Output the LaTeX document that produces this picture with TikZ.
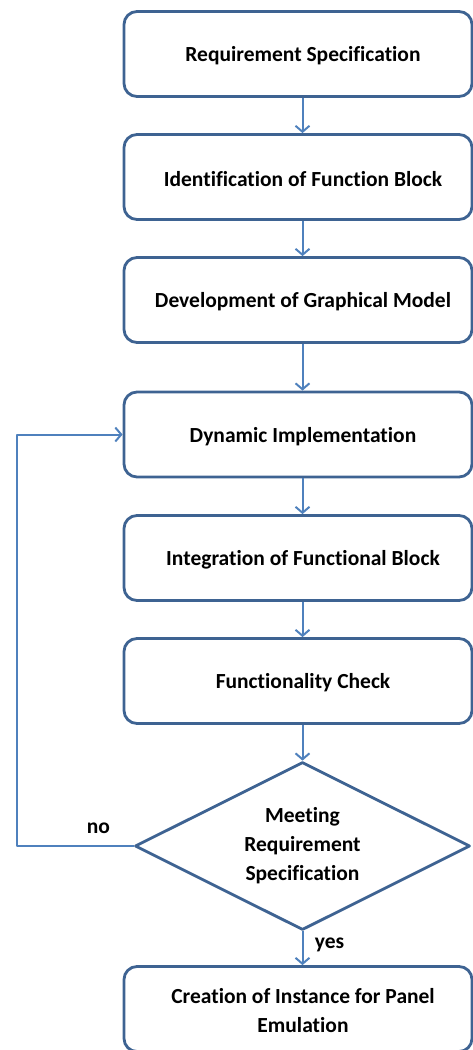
\documentclass[tikz,border=0pt]{standalone}
\usepackage{fontspec}
\setmainfont{Carlito}[Ligatures=NoCommon]
\usetikzlibrary{shapes.geometric,arrows.meta}
\definecolor{boxblue}{RGB}{62,99,146}
\definecolor{arrowblue}{RGB}{79,129,189}
\begin{document}
\begin{tikzpicture}[x=1pt,y=-1pt, font=\bfseries\fontsize{21.5}{29}\selectfont, line join=round,
  stepbox/.style={draw=boxblue, line width=2.8pt, rounded corners=13pt, minimum width=348pt, minimum height=85pt,
    label={[align=center, xshift=5pt, yshift=-2pt]center:#1}},
  check/.style={draw=boxblue, diamond, line width=2.8pt, aspect=2, minimum width=335pt, minimum height=168pt, align=center, inner sep=0pt},
  flow/.style={draw=arrowblue, line width=2pt, -{Straight Barb[length=6pt,width=14pt,line width=2pt]}}]
\useasboundingbox (0,0) rectangle (473,1050);
\node[stepbox={Requirement Specification}] (req) at (298,54) {};
\node[stepbox={Identification of Function Block}] (ident) at (298,177) {};
\node[stepbox={Development of Graphical Model}] (graph) at (298,300) {};
\node[stepbox={Dynamic Implementation}] (dyn) at (298,434.5) {};
\node[stepbox={Integration of Functional Block}] (integ) at (298,558) {};
\node[stepbox={Functionality Check}] (func) at (298,681) {};
\node[check] (dec) at (302.5,846) {Meeting\\Requirement\\Specification};
\node[stepbox={Creation of Instance for Panel\\Emulation}] (inst) at (298,1009) {};
% main flow
\draw[flow] (req.south -| dec) -- (ident.north -| dec);
\draw[flow] (ident.south -| dec) -- (graph.north -| dec);
\draw[flow] (graph.south -| dec) -- (dyn.north -| dec);
\draw[flow] (dyn.south -| dec) -- (integ.north -| dec);
\draw[flow] (integ.south -| dec) -- (func.north -| dec);
\draw[flow] (func.south -| dec) -- (dec.north);
\draw[flow] (dec.south) -- (inst.north -| dec) node[pos=0.4,right=8pt]{yes};
% loop back
\draw[flow] (dec.west) -- ++(-117,0) node[pos=0.3,above=8pt]{no} |- (dyn.west);
\end{tikzpicture}
\end{document}
